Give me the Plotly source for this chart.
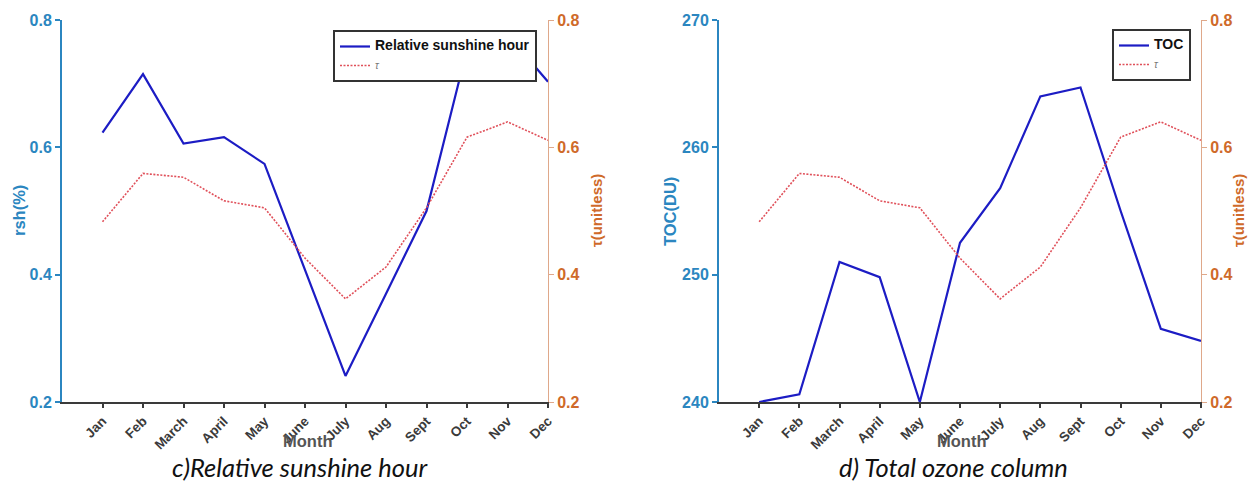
import plotly.graph_objects as go

months = ["Jan", "Feb", "March", "April", "May", "June", "July", "Aug", "Sept", "Oct", "Nov", "Dec"]
rsh = [0.623, 0.715, 0.606, 0.616, 0.574, 0.408, 0.241, 0.370, 0.500, 0.754, 0.777, 0.703]
tau = [0.483, 0.559, 0.553, 0.516, 0.505, 0.426, 0.362, 0.412, 0.505, 0.616, 0.640, 0.611]
toc = [240.0, 240.6, 251.0, 249.8, 240.0, 252.5, 256.8, 264.0, 264.7, 255.0, 245.75, 244.8]

xi = list(range(len(months)))

W, H = 1248, 486
BLUE_AX = "#2b86c0"
ORANGE_AX = "#cf6a2a"
ORANGE_LINE = "#dfa88a"
LINE_BLUE = "#1c1cc4"
TAU_RED = "#e0505a"
DARK = "#3a3a3a"
SANS = "Liberation Sans, Arial, sans-serif"

def px(v):
    return v / W

def py(v):
    return 1 - v / H

BIG = "<span style='font-size:14px'><b>%s</b></span>"
TAU_NAME = "<span style='color:#777;font-size:10px'><i>τ</i></span>"

fig = go.Figure()
fig.add_trace(go.Scatter(x=xi, y=rsh, mode="lines", name=BIG % "Relative sunshine hour",
                         line=dict(color=LINE_BLUE, width=2.2), xaxis="x", yaxis="y", legend="legend"))
fig.add_trace(go.Scatter(x=xi, y=tau, mode="lines", name=TAU_NAME,
                         line=dict(color=TAU_RED, width=1.6, dash="2px,1.5px"), xaxis="x", yaxis="y2", legend="legend"))
fig.add_trace(go.Scatter(x=xi, y=toc, mode="lines", name=BIG % "TOC",
                         line=dict(color=LINE_BLUE, width=2.2), xaxis="x2", yaxis="y3", legend="legend2"))
fig.add_trace(go.Scatter(x=xi, y=tau, mode="lines", name=TAU_NAME,
                         line=dict(color=TAU_RED, width=1.6, dash="2px,1.5px"), xaxis="x2", yaxis="y4", legend="legend2"))

tickfont_x = dict(family=SANS, size=13.5, color=DARK, weight="bold")

def xaxis(domain):
    return dict(domain=domain, range=[-1, 11], tickmode="array", tickvals=xi, ticktext=months,
                tickangle=-45, showline=True, linecolor=DARK, linewidth=2, ticks="outside",
                ticklen=4, tickwidth=1.5, tickcolor=DARK, showgrid=False, zeroline=False,
                tickfont=tickfont_x, fixedrange=True, automargin=False)

def yleft(rng, tv, fmt, anchor, dom):
    return dict(domain=dom, range=rng, tickvals=tv, tickformat=fmt, anchor=anchor, side="left",
                showline=True, linecolor=BLUE_AX, linewidth=2, ticks="outside", ticklen=5,
                tickcolor=BLUE_AX, tickwidth=1.5, showgrid=False, zeroline=False, automargin=False,
                fixedrange=True,
                tickfont=dict(family=SANS, size=16, color=BLUE_AX, weight="bold"))

def yright(anchor, overlay):
    return dict(range=[0.2, 0.8], tickvals=[0.2, 0.4, 0.6, 0.8], tickformat=".1f", anchor=anchor,
                overlaying=overlay, side="right", showline=True, linecolor=ORANGE_LINE, linewidth=1,
                ticks="outside", ticklen=5, tickcolor=ORANGE_LINE, showgrid=False, zeroline=False,
                automargin=False, fixedrange=True,
                tickfont=dict(family=SANS, size=16, color=ORANGE_AX, weight="bold"))

ydom = [py(402), py(20)]

legend_common = dict(xanchor="right", yanchor="top", bgcolor="white", bordercolor="#333",
                     borderwidth=2, font=dict(family=SANS, size=10, color="#111"),
                     tracegroupgap=0, itemwidth=30)

fig.update_layout(
    width=W, height=H, autosize=False,
    margin=dict(l=0, r=0, t=0, b=0, pad=0, autoexpand=False),
    paper_bgcolor="white", plot_bgcolor="white",
    xaxis=xaxis([px(62), px(548)]),
    xaxis2=xaxis([px(719), px(1201)]),
    yaxis=yleft([0.2, 0.8], [0.2, 0.4, 0.6, 0.8], ".1f", "x", ydom),
    yaxis2=yright("x", "y"),
    yaxis3=yleft([240, 270], [240, 250, 260, 270], "d", "x2", ydom),
    yaxis4=yright("x2", "y3"),
    legend=dict(x=px(537), y=py(30), **legend_common),
    legend2=dict(x=px(1191), y=py(29), **legend_common),
    showlegend=True,
)

annotations = [
    dict(text="rsh(%)", x=px(19), y=py(211), textangle=-90,
         font=dict(family=SANS, size=16.5, color=BLUE_AX, weight="bold")),
    dict(text="τ(unitless)", x=px(596), y=py(211), textangle=-90,
         font=dict(family=SANS, size=15, color=ORANGE_AX, weight="bold")),
    dict(text="TOC(DU)", x=px(670), y=py(212), textangle=-90,
         font=dict(family=SANS, size=16.5, color=BLUE_AX, weight="bold")),
    dict(text="τ(unitless)", x=px(1238), y=py(211), textangle=-90,
         font=dict(family=SANS, size=15, color=ORANGE_AX, weight="bold")),
    dict(text="Month", x=px(307), y=py(441), font=dict(family=SANS, size=16.5, color="#555", weight="bold")),
    dict(text="Month", x=px(961), y=py(441), font=dict(family=SANS, size=16.5, color="#555", weight="bold")),
    dict(text="<i>c)Relative sunshine hour</i>", x=px(300), y=py(467),
         font=dict(family="Lato, Open Sans, sans-serif", size=25.5, color="#111")),
    dict(text="<i>d) Total ozone column</i>", x=px(954), y=py(467),
         font=dict(family="Lato, Open Sans, sans-serif", size=25.5, color="#111")),
]
for a in annotations:
    a.update(xref="paper", yref="paper", showarrow=False, xanchor="center", yanchor="middle", borderpad=0)
fig.update_layout(annotations=annotations)

fig.write_html("out.html", config={"displayModeBar": False},
               post_script="document.body.style.margin='0';document.body.style.padding='0';"
                           "document.body.style.overflow='hidden';")
